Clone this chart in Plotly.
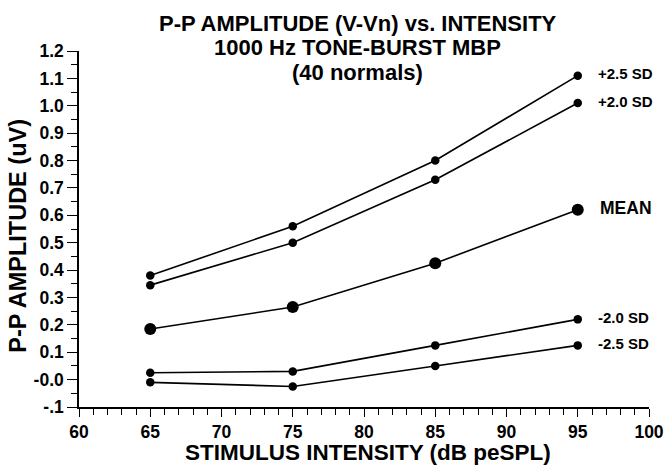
import plotly.graph_objects as go

intensity = [65, 75, 85, 95]
series_names = ["+2.5 SD", "+2.0 SD", "MEAN", "-2.0 SD", "-2.5 SD"]
plus25 = [0.38, 0.56, 0.80, 1.11]
plus20 = [0.345, 0.50, 0.73, 1.01]
mean = [0.185, 0.265, 0.425, 0.62]
minus20 = [0.025, 0.03, 0.125, 0.22]
minus25 = [-0.01, -0.025, 0.05, 0.125]
series_values = [plus25, plus20, mean, minus20, minus25]

y_tickvals = [-0.1, 0.0, 0.1, 0.2, 0.3, 0.4, 0.5, 0.6, 0.7, 0.8, 0.9, 1.0, 1.1, 1.2]
y_ticktext = ["-.1", "-0.0", "0.1", "0.2", "0.3", "0.4", "0.5", "0.6", "0.7", "0.8", "0.9", "1.0", "1.1", "1.2"]
x_tickvals = [60, 65, 70, 75, 80, 85, 90, 95, 100]
x_ticktext = ["60", "65", "70", "75", "80", "85", "90", "95", "100"]
title_lines = ["P-P AMPLITUDE (V-Vn) vs. INTENSITY", "1000 Hz TONE-BURST MBP", "(40 normals)"]
x_title = "STIMULUS INTENSITY (dB peSPL)"
y_title = "P-P AMPLITUDE (uV)"

FONT = "Liberation Sans, Arial, sans-serif"

fig = go.Figure()
for name, vals in zip(series_names, series_values):
    is_mean = name == "MEAN"
    fig.add_trace(go.Scatter(
        x=intensity, y=vals, mode="lines+markers", name=name,
        line=dict(color="black", width=1.6),
        marker=dict(color="black", size=12 if is_mean else 8.5),
        showlegend=False, cliponaxis=False,
    ))
    fig.add_annotation(
        x=intensity[-1], y=vals[-1], text="<b>%s</b>" % name,
        showarrow=False, xanchor="left", yanchor="middle",
        xshift=18 if not is_mean else 20, yshift=2,
        font=dict(family=FONT, size=15 if not is_mean else 17.5, color="black"),
    )

for line, yp in zip(title_lines, [1.078, 1.010, 0.939]):
    fig.add_annotation(
        xref="paper", yref="paper", x=0.489, y=yp, xanchor="center", yanchor="middle",
        text="<b>%s</b>" % line, showarrow=False,
        font=dict(family=FONT, size=22, color="black"),
    )

fig.add_annotation(
    xref="paper", yref="paper", x=0.507, y=-0.128, xanchor="center", yanchor="middle",
    text="<b>%s</b>" % x_title, showarrow=False,
    font=dict(family=FONT, size=22.5, color="black"),
)
fig.add_annotation(
    xref="paper", yref="paper", x=-0.106, y=0.48, xanchor="center", yanchor="middle",
    text="<b>%s</b>" % y_title, showarrow=False, textangle=-90,
    font=dict(family=FONT, size=23.5, color="black"),
)

fig.update_layout(
    width=667, height=465,
    margin=dict(l=79, r=18, t=51, b=58),
    paper_bgcolor="white", plot_bgcolor="white",
    font=dict(family=FONT, color="black"),
)
fig.update_xaxes(
    range=[60, 100], tickvals=x_tickvals, ticktext=["<b>%s</b>" % t for t in x_ticktext],
    ticks="outside", ticklen=8, tickwidth=1.4, tickcolor="black", automargin=False,
    showline=True, linecolor="black", linewidth=1.5, showgrid=False, zeroline=False,
    tickfont=dict(family=FONT, size=17.5, color="black"),
    minor=dict(dtick=1, ticks="outside", ticklen=6, tickcolor="black", tickwidth=1.2),
)
fig.update_yaxes(
    range=[-0.1, 1.2], tickvals=y_tickvals, ticktext=["<b>%s</b>" % t for t in y_ticktext],
    ticks="outside", ticklen=10, tickwidth=1.4, tickcolor="black", automargin=False,
    showline=True, linecolor="black", linewidth=1.5, showgrid=False, zeroline=False,
    tickfont=dict(family=FONT, size=17.5, color="black"),
    minor=dict(tickvals=[v + 0.05 for v in y_tickvals[:-1]], ticks="outside", ticklen=6, tickcolor="black", tickwidth=1.2),
)

fig.write_html("out.html")
